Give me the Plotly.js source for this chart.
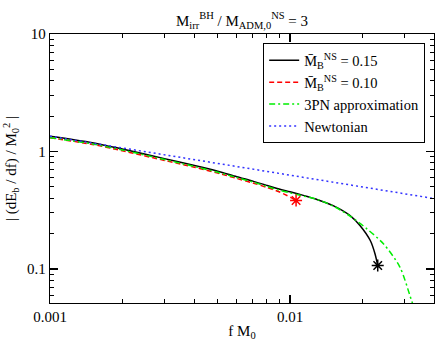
<!DOCTYPE html>
<html>
<head>
<meta charset="utf-8">
<script src="https://cdn.plot.ly/plotly-3.0.1.min.js"></script>
<style>
  body { margin: 0; padding: 0; background: #fff; }
  #plot { width: 436px; height: 341px; }
</style>
</head>
<body>
<div id="plot"></div>
<script>
// M_B = 0.15 sequence (black, ends in a star)
let fHeavy = [0.001, 0.0015, 0.002, 0.003, 0.004, 0.005, 0.006, 0.007, 0.008, 0.009, 0.010, 0.011, 0.0118, 0.0129, 0.0152, 0.0178, 0.0196, 0.0216, 0.0226, 0.0232];
let eHeavy = [1.35, 1.19, 1.05, 0.87, 0.76, 0.68, 0.61, 0.56, 0.515, 0.48, 0.455, 0.432, 0.415, 0.392, 0.345, 0.285, 0.234, 0.175, 0.135, 0.107];

// M_B = 0.10 sequence (red dashed, ends in a star)
let fLight = [0.001, 0.0015, 0.002, 0.003, 0.004, 0.005, 0.006, 0.007, 0.008, 0.009, 0.0095, 0.0101, 0.0106];
let eLight = [1.31, 1.15, 1.015, 0.84, 0.735, 0.655, 0.59, 0.54, 0.495, 0.455, 0.432, 0.405, 0.383];

// 3PN approximation (green dash-dot)
let fPN = [0.001, 0.0015, 0.002, 0.003, 0.004, 0.005, 0.006, 0.007, 0.008, 0.009, 0.010, 0.011, 0.013, 0.0152, 0.0178, 0.0209, 0.0245, 0.0287, 0.0316, 0.0325];
let ePN = [1.31, 1.16, 1.03, 0.855, 0.745, 0.665, 0.60, 0.55, 0.505, 0.47, 0.445, 0.425, 0.39, 0.342, 0.282, 0.22, 0.164, 0.104, 0.0595, 0.05];

// Newtonian (blue dotted)
let fNewt = [0.001, 0.002, 0.005, 0.01, 0.02, 0.0398];
let eNewt = [1.35, 1.07, 0.79, 0.627, 0.497, 0.398];

// end points
let fEnd = [0.0232, 0.0106];
let eEnd = [0.107, 0.383];

let serif = "Liberation Serif, Times New Roman, serif";

let trace1 = {
  x: fHeavy, y: eHeavy, mode: "lines",
  line: {color: "#000000", width: 1.5, shape: "spline", smoothing: 0.8},
  name: "M\u0304<sub>B</sub><sup>NS</sup> = 0.15"
};

let trace2 = {
  x: fLight, y: eLight, mode: "lines",
  line: {color: "#ff0000", width: 1.5, dash: "5px,3px", shape: "spline", smoothing: 0.8},
  name: "M\u0304<sub>B</sub><sup>NS</sup> = 0.10"
};

let trace3 = {
  x: fPN, y: ePN, mode: "lines",
  line: {color: "#00ee00", width: 1.5, dash: "6px,3px,2px,3px", shape: "spline", smoothing: 0.8},
  name: "3PN approximation"
};

let trace4 = {
  x: fNewt, y: eNewt, mode: "lines",
  line: {color: "#3333ff", width: 1.5, dash: "2px,3px"},
  name: "Newtonian"
};

let stars = {
  x: fEnd, y: eEnd, mode: "markers",
  marker: {symbol: "asterisk-open", size: 10, color: ["#000000", "#ff0000"], line: {width: 1.5, color: ["#000000", "#ff0000"]}},
  showlegend: false, hoverinfo: "skip"
};

let traceData = [trace1, trace2, trace3, trace4, stars];

let axisStyle = {
  type: "log",
  showline: true, linecolor: "#000", linewidth: 1.3,
  mirror: "allticks",
  ticks: "inside", ticklen: 8, tickwidth: 1.2, tickcolor: "#000",
  showgrid: false, zeroline: false,
  dtick: 1,
  minor: {dtick: "D1", ticks: "inside", ticklen: 4, tickwidth: 1, tickcolor: "#000", showgrid: false},
  tickfont: {family: serif, size: 15, color: "#000"},
  exponentformat: "none"
};

let layout = {
  width: 436, height: 341,
  margin: {l: 50, r: 2, t: 34, b: 38},
  paper_bgcolor: "#fff", plot_bgcolor: "#fff",
  font: {family: serif, color: "#000"},
  title: {
    text: "M<sub>irr</sub><sup>BH</sup> / M<sub>ADM,0</sub><sup>NS</sup> = 3",
    font: {family: serif, size: 15, color: "#000"},
    x: 0.555, xanchor: "center", y: 0.94, yanchor: "middle"
  },
  xaxis: Object.assign({}, axisStyle, {
    range: [-3, -1.4],
    tickvals: [0.001, 0.01], ticktext: ["0.001", "0.01"],
    title: {text: "f M<sub>0</sub>", font: {family: serif, size: 15, color: "#000"}, standoff: 2}
  }),
  yaxis: Object.assign({}, axisStyle, {
    range: [-1.289, 1],
    tickvals: [0.1, 1, 10], ticktext: ["0.1", "1", "10"],
    title: {text: "| (dE<sub>b</sub> / df) / M<sub>0</sub><sup>2</sup> |", font: {family: serif, size: 15, color: "#000"}, standoff: 6}
  }),
  legend: {
    x: 0.977, y: 0.965, xanchor: "right", yanchor: "top",
    bgcolor: "#fff", bordercolor: "#000", borderwidth: 1,
    font: {family: serif, size: 14.5, color: "#000"},
    itemwidth: 30,
    tracegroupgap: 0
  },
  showlegend: true
};

Plotly.newPlot("plot", traceData, layout, {displayModeBar: false, staticPlot: true});
</script>
</body>
</html>
